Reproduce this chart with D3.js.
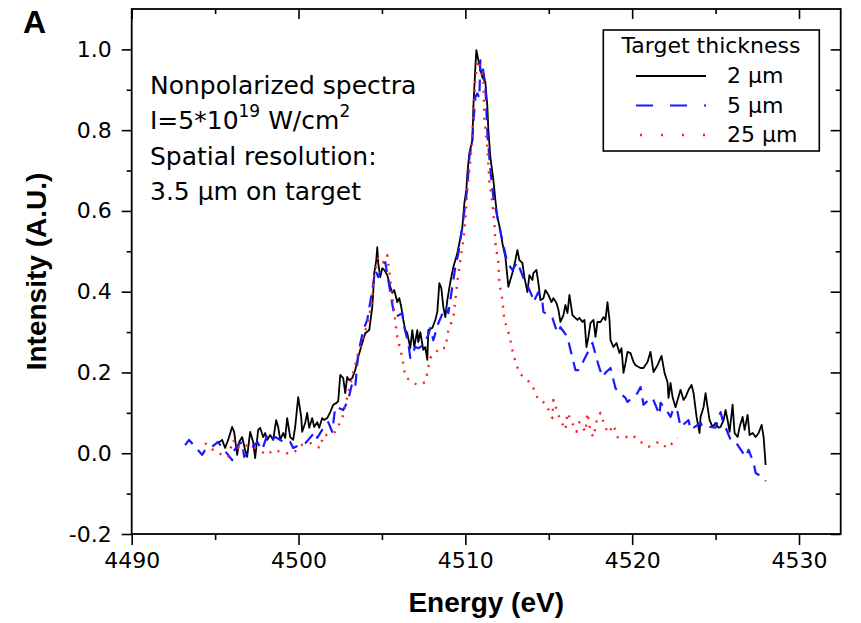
<!DOCTYPE html>
<html>
<head>
<meta charset="utf-8">
<script src="https://cdn.jsdelivr.net/npm/d3@7"></script>
<style>
  body { margin: 0; background: #fff; }
  svg text { fill: #000; }
</style>
</head>
<body>
<svg id="canvas" width="861" height="623"></svg>
<script>
// energies (eV) and intensities (A.U.)
let spectrum2um = [
  [4495.18, 0.025], [4495.42, 0.033], [4495.6, 0.013], [4495.78, 0.033], [4496.02, 0.065],
  [4496.14, 0.053], [4496.32, -0.004], [4496.44, 0.028], [4496.62, 0.04], [4496.8, 0.008],
  [4496.92, -0.009], [4497.1, 0.053], [4497.28, 0.028], [4497.4, -0.012], [4497.58, 0.058],
  [4497.7, 0.063], [4497.88, 0.04], [4498.0, 0.05], [4498.12, 0.033], [4498.3, 0.045],
  [4498.48, 0.033], [4498.66, 0.082], [4498.78, 0.065], [4498.9, 0.033], [4499.08, 0.05],
  [4499.2, 0.038], [4499.32, 0.087], [4499.5, 0.04], [4499.68, 0.033], [4499.8, 0.065],
  [4499.98, 0.139], [4500.16, 0.09], [4500.22, 0.053], [4500.4, 0.075], [4500.52, 0.1],
  [4500.64, 0.063], [4500.82, 0.087], [4500.94, 0.065], [4501.12, 0.077], [4501.24, 0.063],
  [4501.42, 0.087], [4501.54, 0.082], [4501.72, 0.087], [4501.9, 0.102], [4502.08, 0.12],
  [4502.26, 0.124], [4502.38, 0.129], [4502.5, 0.194], [4502.68, 0.186], [4502.8, 0.149],
  [4502.92, 0.189], [4503.04, 0.181], [4503.22, 0.186], [4503.4, 0.206], [4503.58, 0.238],
  [4503.82, 0.273], [4504.0, 0.297], [4504.24, 0.305], [4504.42, 0.362], [4504.48, 0.399],
  [4504.54, 0.446], [4504.66, 0.478], [4504.72, 0.51], [4504.78, 0.47], [4504.9, 0.436],
  [4505.02, 0.458], [4505.14, 0.454], [4505.32, 0.441], [4505.5, 0.412], [4505.62, 0.397],
  [4505.74, 0.404], [4505.92, 0.374], [4506.04, 0.384], [4506.16, 0.362], [4506.28, 0.33],
  [4506.4, 0.305], [4506.52, 0.297], [4506.7, 0.26], [4506.82, 0.305], [4506.94, 0.263],
  [4507.12, 0.305], [4507.18, 0.275], [4507.3, 0.3], [4507.48, 0.256], [4507.6, 0.263],
  [4507.72, 0.231], [4507.78, 0.305], [4508.02, 0.31], [4508.2, 0.33], [4508.32, 0.35],
  [4508.44, 0.421], [4508.56, 0.409], [4508.68, 0.362], [4508.8, 0.337], [4508.92, 0.379],
  [4509.1, 0.424], [4509.28, 0.461], [4509.52, 0.495], [4509.64, 0.52], [4509.82, 0.56],
  [4509.94, 0.619], [4510.06, 0.652], [4510.12, 0.693], [4510.24, 0.743], [4510.42, 0.775],
  [4510.48, 0.857], [4510.6, 0.956], [4510.66, 0.998], [4510.78, 0.973], [4511.02, 0.931],
  [4511.2, 0.919], [4511.32, 0.857], [4511.38, 0.8], [4511.5, 0.733], [4511.68, 0.676],
  [4511.8, 0.627], [4511.92, 0.585], [4512.1, 0.552], [4512.22, 0.52], [4512.4, 0.486],
  [4512.58, 0.412], [4512.82, 0.446], [4513.0, 0.478], [4513.12, 0.503], [4513.24, 0.478],
  [4513.42, 0.471], [4513.54, 0.436], [4513.72, 0.399], [4513.84, 0.441], [4514.02, 0.429],
  [4514.08, 0.446], [4514.26, 0.454], [4514.38, 0.421], [4514.5, 0.379], [4514.68, 0.384],
  [4514.8, 0.404], [4514.98, 0.392], [4515.16, 0.374], [4515.28, 0.384], [4515.46, 0.372],
  [4515.58, 0.355], [4515.7, 0.325], [4515.88, 0.342], [4516.0, 0.367], [4516.12, 0.347],
  [4516.24, 0.392], [4516.42, 0.342], [4516.54, 0.337], [4516.72, 0.33], [4516.84, 0.335],
  [4517.02, 0.325], [4517.14, 0.33], [4517.26, 0.263], [4517.38, 0.288], [4517.5, 0.322],
  [4517.68, 0.33], [4517.8, 0.288], [4517.92, 0.325], [4518.1, 0.325], [4518.28, 0.337],
  [4518.4, 0.33], [4518.52, 0.374], [4518.64, 0.33], [4518.7, 0.28], [4518.88, 0.263],
  [4519.06, 0.273], [4519.24, 0.248], [4519.36, 0.26], [4519.48, 0.199], [4519.6, 0.223],
  [4519.72, 0.251], [4519.9, 0.248], [4520.08, 0.226], [4520.2, 0.218], [4520.5, 0.211],
  [4520.68, 0.211], [4520.92, 0.226], [4521.1, 0.251], [4521.28, 0.201], [4521.52, 0.218],
  [4521.76, 0.241], [4521.94, 0.199], [4522.12, 0.176], [4522.18, 0.137], [4522.3, 0.174],
  [4522.42, 0.139], [4522.6, 0.114], [4522.72, 0.132], [4522.9, 0.157], [4523.08, 0.132],
  [4523.2, 0.139], [4523.38, 0.157], [4523.56, 0.169], [4523.68, 0.149], [4523.86, 0.09],
  [4524.04, 0.05], [4524.1, 0.09], [4524.28, 0.114], [4524.4, 0.149], [4524.52, 0.114],
  [4524.64, 0.082], [4524.82, 0.065], [4525.0, 0.075], [4525.18, 0.063], [4525.3, 0.065],
  [4525.48, 0.082], [4525.6, 0.107], [4525.72, 0.082], [4525.84, 0.053], [4526.02, 0.12],
  [4526.14, 0.05], [4526.32, 0.04], [4526.44, 0.065], [4526.62, 0.09], [4526.74, 0.058],
  [4526.92, 0.095], [4527.04, 0.045], [4527.22, 0.05], [4527.4, 0.04], [4527.58, 0.05],
  [4527.76, 0.07], [4527.88, 0.04], [4528.0, -0.029]
];

let spectrum5um = [
  [4493.2, 0.02], [4493.44, 0.033], [4494.22, -0.004], [4494.4, 0.008], [4494.82, 0.016],
  [4495.18, 0.028], [4495.42, 0.013], [4495.78, -0.004], [4496.02, -0.017], [4496.08, 0.003],
  [4496.38, 0.021], [4496.62, 0.028], [4496.74, -0.009], [4497.1, 0.008], [4497.52, 0.028],
  [4497.82, 0.008], [4498.12, 0.045], [4498.42, 0.033], [4498.6, 0.04], [4498.9, 0.033],
  [4499.2, 0.025], [4499.5, 0.028], [4499.68, 0.013], [4500.1, 0.021], [4500.4, 0.025],
  [4500.58, 0.033], [4501.0, 0.053], [4501.12, 0.038], [4501.42, 0.058], [4501.78, 0.077],
  [4501.9, 0.065], [4502.02, 0.053], [4502.2, 0.114], [4502.32, 0.114], [4502.68, 0.107],
  [4502.98, 0.132], [4503.22, 0.174], [4503.4, 0.164], [4503.58, 0.248], [4503.88, 0.305],
  [4504.12, 0.33], [4504.42, 0.404], [4504.6, 0.454], [4504.78, 0.436], [4505.02, 0.461],
  [4505.2, 0.473], [4505.38, 0.429], [4505.68, 0.355], [4505.8, 0.337], [4506.22, 0.347],
  [4506.28, 0.322], [4506.58, 0.273], [4506.7, 0.236], [4507.0, 0.263], [4507.18, 0.26],
  [4507.48, 0.268], [4507.78, 0.293], [4507.9, 0.31], [4508.08, 0.28], [4508.38, 0.322],
  [4508.8, 0.362], [4508.98, 0.347], [4509.22, 0.412], [4509.4, 0.461], [4509.58, 0.495],
  [4509.82, 0.56], [4510.12, 0.659], [4510.24, 0.733], [4510.42, 0.775], [4510.48, 0.817],
  [4510.6, 0.882], [4510.72, 0.891], [4510.84, 0.879], [4510.9, 0.973], [4511.02, 0.961],
  [4511.2, 0.912], [4511.32, 0.793], [4511.5, 0.701], [4511.68, 0.634], [4511.8, 0.609],
  [4511.98, 0.572], [4512.28, 0.515], [4512.52, 0.471], [4512.82, 0.454], [4513.12, 0.473],
  [4513.48, 0.434], [4513.72, 0.416], [4514.02, 0.387], [4514.08, 0.374], [4514.38, 0.399],
  [4514.62, 0.374], [4514.68, 0.35], [4515.22, 0.335], [4515.4, 0.312], [4515.58, 0.298],
  [4515.7, 0.312], [4516.12, 0.288], [4516.3, 0.256], [4516.6, 0.206], [4516.78, 0.206],
  [4516.9, 0.214], [4517.32, 0.248], [4517.62, 0.273], [4517.98, 0.218], [4518.22, 0.189],
  [4518.4, 0.199], [4518.7, 0.211], [4519.0, 0.161], [4519.18, 0.152], [4519.6, 0.137],
  [4519.72, 0.127], [4520.32, 0.149], [4520.5, 0.164], [4520.68, 0.12], [4520.98, 0.132],
  [4521.22, 0.137], [4521.64, 0.095], [4521.7, 0.125], [4522.12, 0.102], [4522.3, 0.09],
  [4522.48, 0.112], [4522.72, 0.102], [4522.9, 0.065], [4523.38, 0.082], [4523.5, 0.058],
  [4524.1, 0.075], [4524.22, 0.065], [4524.7, 0.065], [4525.0, 0.063], [4525.3, 0.102],
  [4525.42, 0.082], [4525.9, 0.033], [4526.2, 0.028], [4526.8, -0.009], [4526.98, 0.008],
  [4527.28, -0.024], [4527.4, -0.049], [4527.88, -0.061], [4528.0, -0.069]
];

let spectrum25um = [
  [4494.4, 0.025], [4494.88, 0.008], [4495.18, 0.0], [4495.78, -0.009], [4496.08, 0.033],
  [4496.38, 0.013], [4496.62, 0.021], [4497.28, 0.016], [4498.12, -0.004], [4498.48, 0.008],
  [4499.32, 0.0], [4499.68, 0.0], [4500.22, 0.021], [4500.7, 0.025], [4501.3, 0.013],
  [4501.48, 0.045], [4501.78, 0.045], [4502.2, 0.053], [4502.62, 0.087], [4503.28, 0.201],
  [4503.58, 0.248], [4503.88, 0.285], [4504.18, 0.33], [4504.42, 0.379], [4504.48, 0.429],
  [4504.78, 0.486], [4505.08, 0.473], [4505.32, 0.491], [4505.62, 0.387], [4505.92, 0.288],
  [4506.22, 0.236], [4506.4, 0.189], [4506.88, 0.174], [4507.18, 0.169], [4507.6, 0.176],
  [4507.9, 0.236], [4508.2, 0.248], [4508.5, 0.263], [4508.8, 0.26], [4508.98, 0.305],
  [4509.28, 0.335], [4509.52, 0.424], [4509.7, 0.478], [4509.88, 0.528], [4510.0, 0.577],
  [4510.12, 0.652], [4510.42, 0.775], [4510.48, 0.85], [4510.6, 0.924], [4510.72, 0.973],
  [4510.9, 0.956], [4511.08, 0.919], [4511.14, 0.825], [4511.32, 0.758], [4511.44, 0.671],
  [4511.62, 0.619], [4511.74, 0.57], [4511.8, 0.52], [4511.98, 0.471], [4512.04, 0.421],
  [4512.22, 0.379], [4512.34, 0.33], [4512.64, 0.292], [4512.88, 0.243], [4513.24, 0.198],
  [4513.9, 0.174], [4514.08, 0.161], [4514.38, 0.132], [4514.8, 0.124], [4515.22, 0.087],
  [4515.28, 0.132], [4515.64, 0.087], [4516.0, 0.058], [4516.12, 0.1], [4516.66, 0.053],
  [4516.84, 0.077], [4517.2, 0.053], [4517.32, 0.1], [4517.5, 0.053], [4517.68, 0.04],
  [4517.92, 0.09], [4518.1, 0.1], [4518.4, 0.063], [4518.58, 0.05], [4518.88, 0.07],
  [4519.12, 0.04], [4519.48, 0.038], [4520.02, 0.045], [4520.5, 0.028], [4520.98, 0.016],
  [4521.58, 0.028], [4522.12, 0.013], [4522.72, 0.038]
];

let xTicks = [4490, 4500, 4510, 4520, 4530];
let xMinorTicks = [4495, 4505, 4515, 4525];
let yTicks = [-0.2, 0.0, 0.2, 0.4, 0.6, 0.8, 1.0];
let yMinorTicks = [-0.1, 0.1, 0.3, 0.5, 0.7, 0.9];
let legendLabels = ["2 \u00b5m", "5 \u00b5m", "25 \u00b5m"];

let regular = "'DejaVu Sans', sans-serif";
let bold = "'Liberation Sans', Arial, sans-serif";

let margin = { left: 131.7, right: 840.7, top: 9, bottom: 534 };

let canvas = d3.select("#canvas");

let xScale = d3.scaleLinear().domain([4490, 4532.5]).range([margin.left, margin.right]);
let yScale = d3.scaleLinear().domain([-0.2, 1.1]).range([margin.bottom, margin.top]);

let styleAxis = (g) => {
  g.select(".domain").remove();
  g.selectAll(".tick line").attr("stroke", "#000").attr("stroke-width", 1.6);
  g.selectAll(".tick text").attr("fill", "#000").style("font-family", regular).style("font-size", "22px");
};

// bottom axis (outward ticks)
canvas.append("g")
  .attr("transform", "translate(0," + margin.bottom + ")")
  .call(d3.axisBottom(xScale).tickValues(xTicks).tickSize(11).tickPadding(7).tickFormat(d3.format("d")))
  .call(styleAxis);
canvas.append("g")
  .attr("transform", "translate(0," + margin.bottom + ")")
  .call(d3.axisBottom(xScale).tickValues(xMinorTicks).tickSize(6).tickFormat(""))
  .call(styleAxis);

// left axis
canvas.append("g")
  .attr("transform", "translate(" + margin.left + ",0)")
  .call(d3.axisLeft(yScale).tickValues(yTicks).tickSize(10).tickPadding(10).tickFormat((d) => d.toFixed(1)))
  .call(styleAxis);
canvas.append("g")
  .attr("transform", "translate(" + margin.left + ",0)")
  .call(d3.axisLeft(yScale).tickValues(yMinorTicks).tickSize(5).tickFormat(""))
  .call(styleAxis);

// top and right mirror ticks, pointing inward
canvas.append("g")
  .attr("transform", "translate(0," + margin.top + ")")
  .call(d3.axisTop(xScale).tickValues(xTicks).tickSize(-10).tickFormat(""))
  .call(styleAxis);
canvas.append("g")
  .attr("transform", "translate(0," + margin.top + ")")
  .call(d3.axisTop(xScale).tickValues(xMinorTicks).tickSize(-5).tickFormat(""))
  .call(styleAxis);
canvas.append("g")
  .attr("transform", "translate(" + margin.right + ",0)")
  .call(d3.axisRight(yScale).tickValues(yTicks).tickSize(-10).tickFormat(""))
  .call(styleAxis);
canvas.append("g")
  .attr("transform", "translate(" + margin.right + ",0)")
  .call(d3.axisRight(yScale).tickValues(yMinorTicks).tickSize(-5).tickFormat(""))
  .call(styleAxis);

// frame
canvas.append("rect")
  .attr("x", margin.left)
  .attr("y", margin.top)
  .attr("width", margin.right - margin.left)
  .attr("height", margin.bottom - margin.top)
  .attr("fill", "none")
  .attr("stroke", "#000")
  .attr("stroke-width", 1.8);

let line = d3.line()
  .x((d) => xScale(d[0]))
  .y((d) => yScale(d[1]));

let series = [
  { data: spectrum2um, color: "#000", width: 1.8, dash: null, legendDash: null },
  { data: spectrum5um, color: "#1a1aff", width: 2.2, dash: "12,8", legendDash: "17,17" },
  { data: spectrum25um, color: "#ff2020", width: 2.4, dash: "2,7", legendDash: "2,19" }
];

series.forEach((s) => {
  canvas.append("path")
    .datum(s.data)
    .attr("d", line)
    .attr("fill", "none")
    .attr("stroke", s.color)
    .attr("stroke-width", s.width)
    .attr("stroke-linejoin", "round")
    .attr("stroke-dasharray", s.dash);
});

// axis titles
canvas.append("text")
  .attr("x", (margin.left + margin.right) / 2)
  .attr("y", 612)
  .attr("text-anchor", "middle")
  .style("font-family", bold)
  .style("font-weight", "bold")
  .style("font-size", "28px")
  .text("Energy (eV)");

canvas.append("text")
  .attr("transform", "translate(46," + (margin.top + margin.bottom) / 2 + ") rotate(-90)")
  .attr("text-anchor", "middle")
  .style("font-family", bold)
  .style("font-weight", "bold")
  .style("font-size", "28px")
  .text("Intensity (A.U.)");

canvas.append("text")
  .attr("x", 23)
  .attr("y", 33)
  .style("font-family", bold)
  .style("font-weight", "bold")
  .style("font-size", "32px")
  .text("A");

// annotation
let note = canvas.append("g")
  .style("font-family", regular)
  .style("font-size", "25px");
note.append("text").attr("x", 150).attr("y", 94).text("Nonpolarized spectra");
let intensityLine = note.append("text").attr("x", 150).attr("y", 129);
intensityLine.append("tspan").text("I=5*10");
intensityLine.append("tspan").attr("dy", -12).style("font-size", "17px").text("19");
intensityLine.append("tspan").attr("dy", 12).text(" W/cm");
intensityLine.append("tspan").attr("dy", -12).style("font-size", "17px").text("2");
note.append("text").attr("x", 150).attr("y", 165).text("Spatial resolution:");
note.append("text").attr("x", 150).attr("y", 200).text("3.5 \u00b5m on target");

// legend
let legend = canvas.append("g");
legend.append("rect")
  .attr("x", 603.3)
  .attr("y", 30)
  .attr("width", 216)
  .attr("height", 121)
  .attr("fill", "#fff")
  .attr("stroke", "#000")
  .attr("stroke-width", 1.6);
legend.append("text")
  .attr("x", 711)
  .attr("y", 53)
  .attr("text-anchor", "middle")
  .style("font-family", regular)
  .style("font-size", "22px")
  .text("Target thickness");

series.forEach((s, i) => {
  let yRow = 76 + i * 29.5;
  legend.append("line")
    .attr("x1", s.legendDash === "2,19" ? 640 : 636)
    .attr("x2", 706)
    .attr("y1", yRow)
    .attr("y2", yRow)
    .attr("stroke", s.color)
    .attr("stroke-width", s.width)
    .attr("stroke-dasharray", s.legendDash);
  legend.append("text")
    .attr("x", 727)
    .attr("y", yRow + 7)
    .style("font-family", regular)
    .style("font-size", "22px")
    .text(legendLabels[i]);
});
</script>
</body>
</html>
